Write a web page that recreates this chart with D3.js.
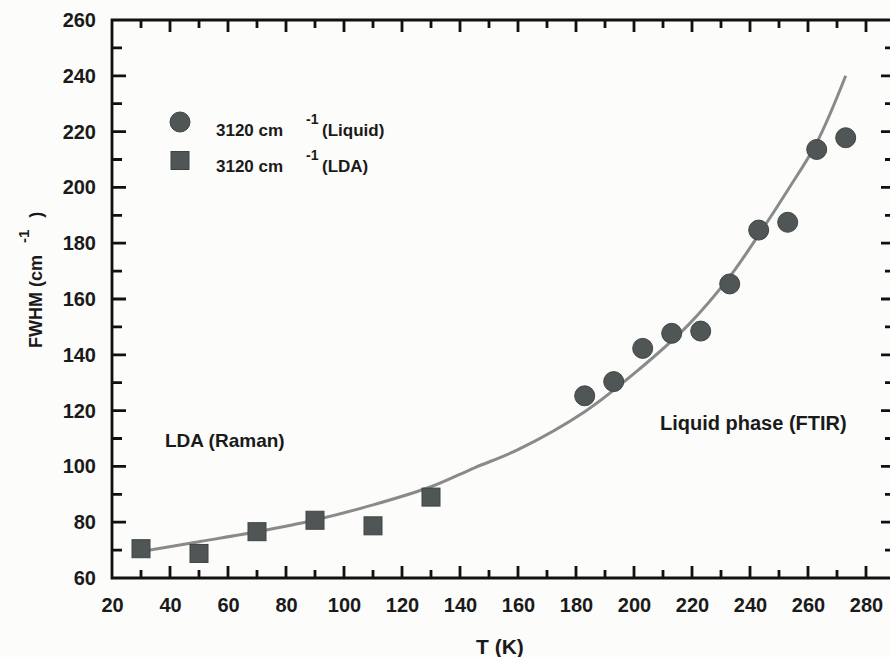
<!DOCTYPE html>
<html>
<head>
<meta charset="utf-8">
<script src="https://cdn.jsdelivr.net/npm/d3@7"></script>
<style>
  html, body { margin: 0; padding: 0; background: #fcfcfa; }
  svg { display: block; }
  text { font-family: "Liberation Sans", Arial, sans-serif; font-weight: bold; fill: #1a1a1a; }
</style>
</head>
<body>
<script>
// ---- data ----
const ldaT = [30, 50, 70, 90, 110, 130];
const ldaFWHM = [70.5, 68.8, 76.6, 80.7, 78.7, 89.0];

const liqT = [183, 193, 203, 213, 223, 233, 243, 253, 263, 273];
const liqFWHM = [125.3, 130.4, 142.3, 147.7, 148.5, 165.4, 184.7, 187.5, 213.6, 217.8];

const fitT = [30, 50, 70, 90, 110, 130, 145, 160, 183, 202, 219, 233, 243, 253, 263, 273];
const fitFWHM = [69.5, 73.0, 76.6, 80.8, 86.2, 92.7, 99.5, 106, 119.6, 135, 151, 168, 183, 199, 216, 240];

const xTickLabels = [20, 40, 60, 80, 100, 120, 140, 160, 180, 200, 220, 240, 260, 280];
const yTickLabels = [60, 80, 100, 120, 140, 160, 180, 200, 220, 240, 260];
const xMinorTicks = [30, 50, 70, 90, 110, 130, 150, 170, 190, 210, 230, 250, 270];
const yMinorTicks = [70, 90, 110, 130, 150, 170, 190, 210, 230, 250];

const legendLabels = ["(Liquid)", "(LDA)"];
const annotations = ["LDA (Raman)", "Liquid phase (FTIR)"];

// ---- layout ----
const W = 890, H = 657;
const pL = 112, pR = 895, pT = 20, pB = 578;
const markerFill = "#4f5655";
const ink = "#111111";

const svg = d3.select("body").append("svg").attr("width", W).attr("height", H);

const xs = d3.scaleLinear().domain([20, 290]).range([pL, pR]);
const ys = d3.scaleLinear().domain([60, 260]).range([pB, pT]);

// frame + inward ticks as one path built from the scales
const p = d3.path();
p.moveTo(pL, pT); p.lineTo(pR, pT); p.lineTo(pR, pB); p.lineTo(pL, pB); p.closePath();
function tx(vals, len) {
  vals.forEach(v => {
    const px = xs(v);
    p.moveTo(px, pB); p.lineTo(px, pB - len);
    p.moveTo(px, pT); p.lineTo(px, pT + len);
  });
}
function ty(vals, len) {
  vals.forEach(v => {
    const py = ys(v);
    p.moveTo(pL, py); p.lineTo(pL + len, py);
    p.moveTo(pR, py); p.lineTo(pR - len, py);
  });
}
tx(xTickLabels, 12);
tx(xMinorTicks, 8);
ty(yTickLabels, 14);
ty(yMinorTicks, 10);
svg.append("path").attr("d", p.toString())
  .attr("fill", "none").attr("stroke", ink).attr("stroke-width", 2.8);

// tick labels via d3 axes
const fs = "20px";
svg.append("g").attr("transform", `translate(0,${pB})`)
  .call(d3.axisBottom(xs).tickValues(xTickLabels).tickSize(0).tickPadding(20))
  .call(g => g.select(".domain").remove())
  .call(g => g.selectAll(".tick line").remove())
  .call(g => g.selectAll(".tick text").attr("font-size", fs).attr("fill", "#1a1a1a")
    .attr("font-family", "Liberation Sans, Arial, sans-serif").attr("font-weight", "bold"));
svg.append("g").attr("transform", `translate(${pL},0)`)
  .call(d3.axisLeft(ys).tickValues(yTickLabels).tickSize(0).tickPadding(16))
  .call(g => g.select(".domain").remove())
  .call(g => g.selectAll(".tick line").remove())
  .call(g => g.selectAll(".tick text").attr("font-size", fs).attr("fill", "#1a1a1a")
    .attr("font-family", "Liberation Sans, Arial, sans-serif").attr("font-weight", "bold"));

// fitted curve
const fitData = fitT.map((t, i) => [t, fitFWHM[i]]);
svg.append("path")
  .datum(fitData)
  .attr("fill", "none")
  .attr("stroke", "#8a8a8a")
  .attr("stroke-width", 3)
  .attr("d", d3.line().x(d => xs(d[0])).y(d => ys(d[1])).curve(d3.curveCatmullRom.alpha(0.5)));

// squares (LDA)
const sq = 18;
svg.append("g").selectAll("rect")
  .data(ldaT.map((t, i) => [t, ldaFWHM[i]]))
  .join("rect")
  .attr("x", d => xs(d[0]) - sq / 2)
  .attr("y", d => ys(d[1]) - sq / 2)
  .attr("width", sq).attr("height", sq)
  .attr("fill", markerFill)
  .attr("stroke", "#3e4444").attr("stroke-width", 1);

// circles (liquid)
svg.append("g").selectAll("circle")
  .data(liqT.map((t, i) => [t, liqFWHM[i]]))
  .join("circle")
  .attr("cx", d => xs(d[0]))
  .attr("cy", d => ys(d[1]))
  .attr("r", 10)
  .attr("fill", markerFill)
  .attr("stroke", "#3e4444").attr("stroke-width", 1);

// legend
svg.append("circle").attr("cx", 180).attr("cy", 122).attr("r", 10).attr("fill", markerFill).attr("stroke", "#3e4444");
svg.append("rect").attr("x", 171).attr("y", 151.5).attr("width", 18).attr("height", 18).attr("fill", markerFill).attr("stroke", "#3e4444");

[136, 172].forEach((by, i) => {
  const t = svg.append("text").attr("x", 216).attr("y", by).attr("font-size", "17px");
  t.append("tspan").text("3120 cm");
  t.append("tspan").attr("x", 306).attr("y", by - 12).attr("font-size", "14px").text("-1");
  t.append("tspan").attr("x", 322).attr("y", by).text(legendLabels[i]);
});

// annotations
svg.append("text").attr("x", 165).attr("y", 447).attr("font-size", "19px").text(annotations[0]);
svg.append("text").attr("x", 660).attr("y", 430).attr("font-size", "20px").text(annotations[1]);

// axis titles
svg.append("text").attr("x", 476).attr("y", 654).attr("font-size", "21px").text("T (K)");

const yl = svg.append("text").attr("transform", "translate(42,348) rotate(-90)").attr("font-size", "18px");
yl.append("tspan").text("FWHM (cm");
yl.append("tspan").attr("dx", 12).attr("dy", -13).attr("font-size", "15px").text("-1");
yl.append("tspan").attr("dx", 12).attr("dy", 13).text(")");
</script>
</body>
</html>
